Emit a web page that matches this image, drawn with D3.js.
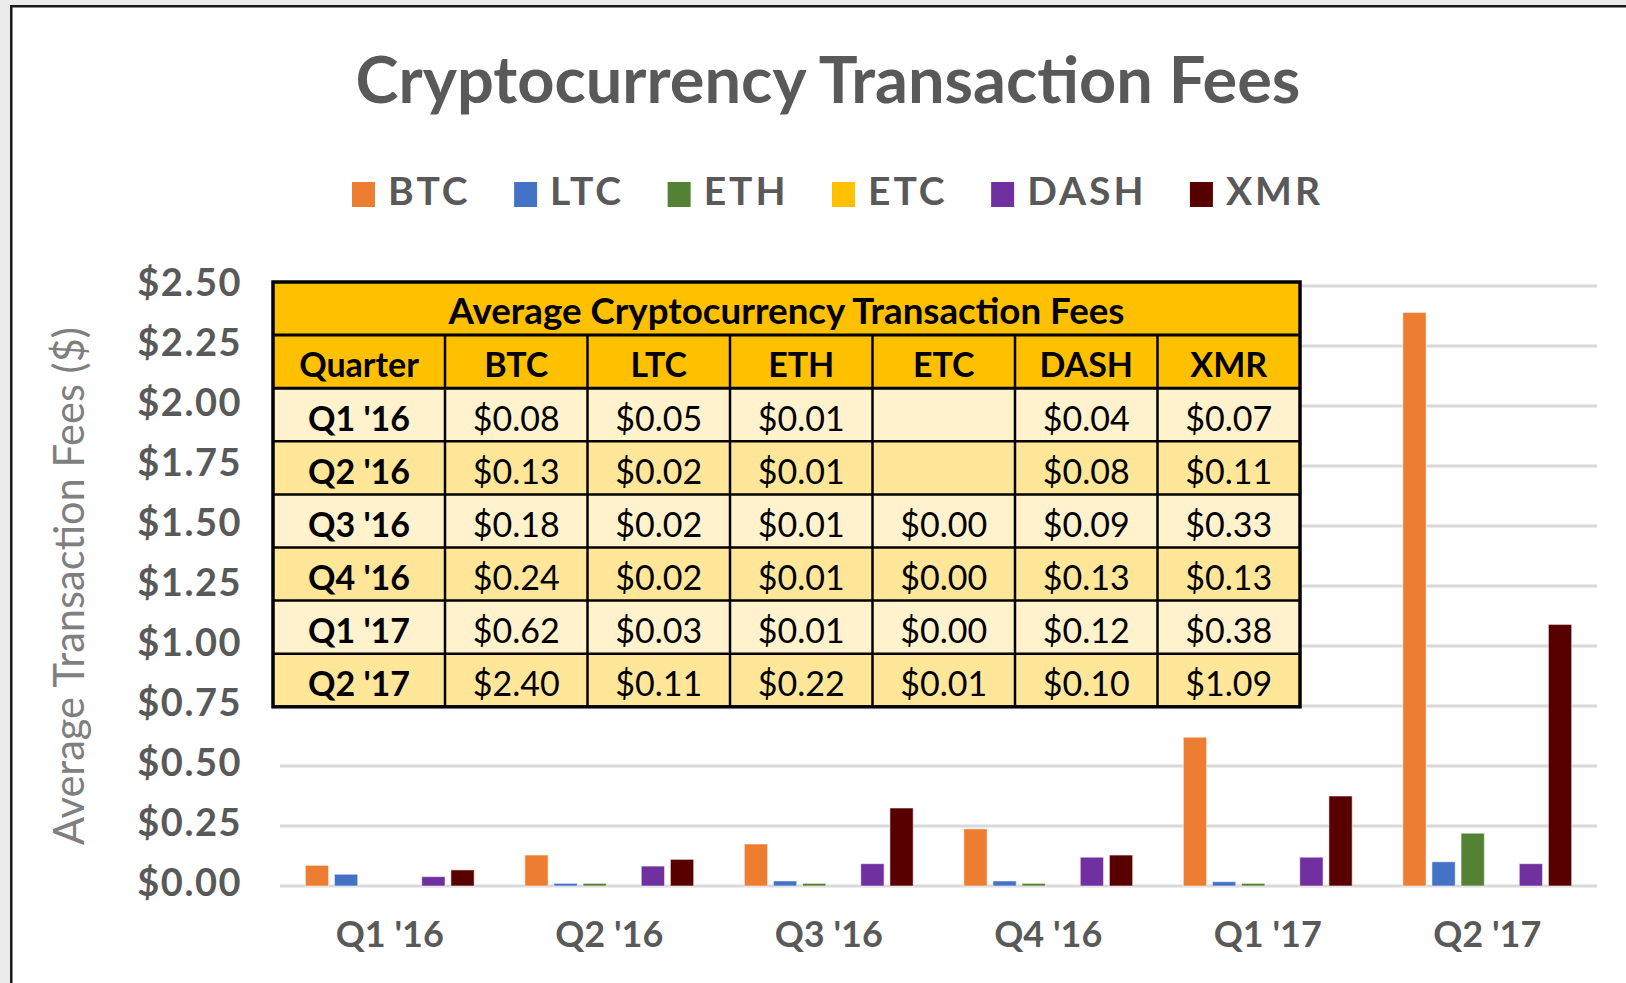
<!DOCTYPE html>
<html><head><meta charset="utf-8">
<script src="https://cdn.jsdelivr.net/npm/d3@7"></script>
<style>html,body{margin:0;padding:0;background:#ebebeb;overflow:hidden}</style>
</head><body><svg id="c" width="1626" height="983"></svg>
<script>
// ---------- data ----------
const quarters = ["Q1 '16","Q2 '16","Q3 '16","Q4 '16","Q1 '17","Q2 '17"];
const coins = ["BTC","LTC","ETH","ETC","DASH","XMR"];
const coinColors = ["#ED7D31","#4472C4","#548235","#FFC000","#7030A0","#580000"];
// chart values
const btcVals  = [0.086,0.129,0.175,0.238,0.62,2.39];
const ltcVals  = [0.049,0.011,0.021,0.021,0.018,0.101];
const ethVals  = [0.0,0.011,0.011,0.011,0.011,0.22];
const etcVals  = [null,null,0.0,0.0,0.0,0.0];
const dashVals = [0.039,0.083,0.093,0.12,0.12,0.093];
const xmrVals  = [0.067,0.111,0.325,0.129,0.375,1.09];
const yTicks = [0,0.25,0.5,0.75,1,1.25,1.5,1.75,2,2.25,2.5];
// table values (text)
const tableTitle = "Average Cryptocurrency Transaction Fees";
const tableHeader = ["Quarter","BTC","LTC","ETH","ETC","DASH","XMR"];
const tblBTC  = ["$0.08","$0.13","$0.18","$0.24","$0.62","$2.40"];
const tblLTC  = ["$0.05","$0.02","$0.02","$0.02","$0.03","$0.11"];
const tblETH  = ["$0.01","$0.01","$0.01","$0.01","$0.01","$0.22"];
const tblETC  = ["","","$0.00","$0.00","$0.00","$0.01"];
const tblDASH = ["$0.04","$0.08","$0.09","$0.13","$0.12","$0.10"];
const tblXMR  = ["$0.07","$0.11","$0.33","$0.13","$0.38","$1.09"];

const chartTitle = "Cryptocurrency Transaction Fees";
const yTitle = "Average Transaction Fees ($)";

const series = [btcVals,ltcVals,ethVals,etcVals,dashVals,xmrVals];
const tblCols = [tblBTC,tblLTC,tblETH,tblETC,tblDASH,tblXMR];

// ---------- drawing ----------
const svg = d3.select("#c");
const W = 1626, H = 983;
const FONT = "Lato, 'Open Sans', sans-serif";
const TFONT = "Lato, 'Liberation Sans', sans-serif";
const labelGray = "#595959";

function fit(sel, target){
  const w = sel.node().getComputedTextLength();
  const fs = parseFloat(sel.attr("font-size"));
  sel.attr("font-size", fs*target/w);
}

// frame
svg.append("rect").attr("x",0).attr("y",0).attr("width",W).attr("height",H).attr("fill","#ebebeb");
svg.append("rect").attr("x",12).attr("y",7).attr("width",W-12).attr("height",H-7).attr("fill","#ffffff");
svg.append("rect").attr("x",10).attr("y",5).attr("width",W-10).attr("height",2.5).attr("fill","#1a1a1a");
svg.append("rect").attr("x",10).attr("y",5).attr("width",2.5).attr("height",H-5).attr("fill","#1a1a1a");

// scales
const y = d3.scaleLinear().domain([0,2.5]).range([886,286]);
const x0 = d3.scaleBand().domain(quarters).range([280,1597]);
const x1 = d3.scaleBand().domain(coins).range([0,x0.bandwidth()]).paddingInner(0.2).paddingOuter(0.87);
const color = d3.scaleOrdinal().domain(coins).range(coinColors);

// grid
svg.append("g").selectAll("line").data(yTicks).join("line")
  .attr("x1",280).attr("x2",1597)
  .attr("y1",d=>y(d)).attr("y2",d=>y(d))
  .attr("stroke","#d9d9d9").attr("stroke-width",3);

// bars
const barData = [];
quarters.forEach((q,i)=>coins.forEach((c,j)=>{
  const v = series[j][i];
  if(v!==null && v>0) barData.push({q,c,v});
}));
svg.append("g").selectAll("rect").data(barData).join("rect")
  .attr("x",d=>x0(d.q)+x1(d.c))
  .attr("width",x1.bandwidth())
  .attr("y",d=>y(d.v))
  .attr("height",d=>y(0)-y(d.v))
  .attr("fill",d=>color(d.c))
  .attr("stroke","rgba(255,255,255,0.55)").attr("stroke-width",1);

// y axis labels
const yAxis = d3.axisLeft(y).tickValues(yTicks).tickFormat(d=>"$"+d.toFixed(2)).tickSize(0).tickPadding(0);
const gy = svg.append("g").attr("transform","translate(242,0)").call(yAxis);
gy.select(".domain").remove();
gy.selectAll("text").attr("font-family",FONT).attr("font-weight","bold")
  .attr("font-size",38).attr("letter-spacing",1.5).attr("fill",labelGray).attr("dy","0.24em");

// x axis labels
const xAxis = d3.axisBottom(x0).tickSize(0).tickPadding(0);
const gx = svg.append("g").attr("transform","translate(0,934)").call(xAxis);
gx.select(".domain").remove();
gx.selectAll("text").attr("font-family",FONT).attr("font-weight","bold")
  .attr("font-size",36).attr("fill",labelGray).attr("dy","0.36em");

// y title
const yt = svg.append("text").attr("transform","translate(84,586) rotate(-90)")
  .attr("text-anchor","middle").attr("font-family",FONT).attr("font-size",36)
  .attr("fill","#7f7f7f").text(yTitle);
fit(yt,518);

// chart title
const tt = svg.append("text").attr("x",828).attr("y",103).attr("text-anchor","middle")
  .attr("font-family",FONT).attr("font-weight","bold").attr("font-size",56)
  .attr("fill",labelGray).text(chartTitle);
fit(tt,945);

// legend
const lg = svg.append("g");
const items = coins.map((c,i)=>{
  const g = lg.append("g");
  g.append("rect").attr("width",23).attr("height",25).attr("y",182).attr("fill",coinColors[i]);
  const t = g.append("text").attr("x",36).attr("y",205).attr("font-family",FONT).attr("font-weight","bold")
    .attr("font-size",39).attr("letter-spacing",3).attr("fill",labelGray).text(c);
  return {g, w:36+t.node().getComputedTextLength()};
});
const legL = 352, legR = 1323;
const gap = (legR-legL - d3.sum(items,d=>d.w))/(items.length-1);
let cx = legL;
items.forEach(it=>{ it.g.attr("transform",`translate(${cx},0)`); cx += it.w+gap; });

// table
const tX = 273, tTop = 282, qW = 172, cW = (1300-445)/6, rH = 53.1;
const colX = [tX, tX+qW].concat(d3.range(1,7).map(k=>tX+qW+k*cW));
const tW = colX[7]-tX;
const tg = svg.append("g");
tg.append("rect").attr("x",tX).attr("y",tTop).attr("width",tW).attr("height",rH).attr("fill","#FFC000");
tg.append("rect").attr("x",tX).attr("y",tTop+rH).attr("width",tW).attr("height",rH).attr("fill","#FFC000");
quarters.forEach((q,i)=>{
  tg.append("rect").attr("x",tX).attr("y",tTop+(i+2)*rH).attr("width",tW).attr("height",rH)
    .attr("fill", i%2===0 ? "#FFF2CC" : "#FFE699");
});
for(let r=1;r<=7;r++){
  tg.append("line").attr("x1",tX).attr("x2",tX+tW).attr("y1",tTop+r*rH).attr("y2",tTop+r*rH)
    .attr("stroke","#000").attr("stroke-width",r<=2?3:2.5);
}
for(let c=1;c<=6;c++){
  tg.append("line").attr("x1",colX[c]).attr("x2",colX[c]).attr("y1",tTop+rH).attr("y2",tTop+8*rH)
    .attr("stroke","#000").attr("stroke-width",2.5);
}
tg.append("rect").attr("x",tX).attr("y",tTop).attr("width",tW).attr("height",8*rH)
  .attr("fill","none").attr("stroke","#000").attr("stroke-width",3.5);

const ttl = tg.append("text").attr("x",tX+tW/2).attr("y",tTop+rH/2+15).attr("text-anchor","middle")
  .attr("font-family",TFONT).attr("font-weight","bold").attr("font-size",34).attr("fill","#000").text(tableTitle);
fit(ttl,676);
tableHeader.forEach((h,c)=>{
  tg.append("text").attr("x",(colX[c]+colX[c+1])/2).attr("y",tTop+1.5*rH+15).attr("text-anchor","middle")
    .attr("font-family",TFONT).attr("font-weight","bold").attr("font-size",34).attr("fill","#000").text(h);
});
quarters.forEach((q,i)=>{
  const cy = tTop+(i+2.5)*rH+16;
  tg.append("text").attr("x",(colX[0]+colX[1])/2).attr("y",cy).attr("text-anchor","middle")
    .attr("font-family",TFONT).attr("font-weight","bold").attr("font-size",34).attr("fill","#000").text(q);
  tblCols.forEach((col,j)=>{
    tg.append("text").attr("x",(colX[j+1]+colX[j+2])/2).attr("y",cy).attr("text-anchor","middle")
      .attr("font-family",TFONT).attr("font-size",34).attr("fill","#000").text(col[i]);
  });
});
</script></body></html>
